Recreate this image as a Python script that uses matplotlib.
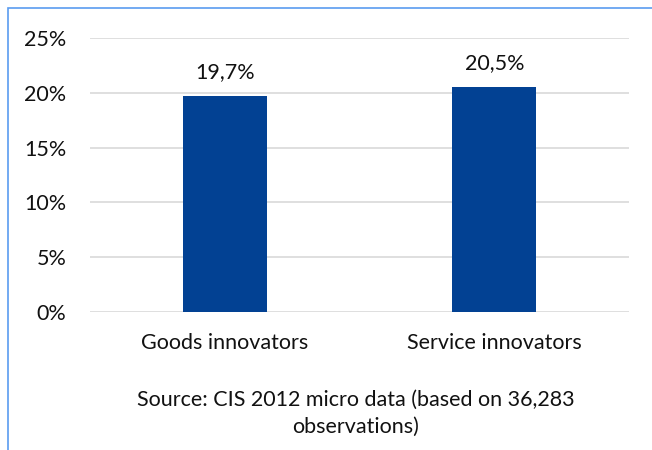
import matplotlib.pyplot as plt
from matplotlib.patches import Rectangle

categories = ['Goods innovators', 'Service innovators']
shares = [19.7, 20.5]
value_labels = ['19,7%', '20,5%']
y_ticks = [0, 5, 10, 15, 20, 25]
source = 'Source: CIS 2012 micro data (based on 36,283\nobservations)'

plt.rcParams['font.family'] = ['Lato', 'DejaVu Sans']
txt = '#111111'
fs = 15.5

fig = plt.figure(figsize=(6.52, 4.5), dpi=100)
W, H = 652, 450
ax = fig.add_axes([90 / W, 1 - 312 / H, 539 / W, (312 - 38) / H])

x = range(len(categories))
ax.bar(x, shares, width=0.312, color='#024193', zorder=3)
for xi, v, lab in zip(x, shares, value_labels):
    ax.annotate(lab, (xi, v), xytext=(0, 10), textcoords='offset points',
                ha='center', va='bottom', fontsize=fs, color=txt)

ax.set_xlim(-0.5, 1.5)
ax.set_ylim(0, 25)
ax.set_yticks(y_ticks)
ax.set_yticklabels([f'{t}%' for t in y_ticks])
ax.set_xticks(list(x))
ax.set_xticklabels(categories)
ax.tick_params(axis='both', length=0, labelsize=fs, labelcolor=txt)
ax.tick_params(axis='y', pad=17)
ax.tick_params(axis='x', pad=15)
ax.grid(axis='y', color='#d9d9d9', linewidth=1.2, zorder=0)
for s in ax.spines.values():
    s.set_visible(False)

fig.text(356 / W, 1 - 413 / H, source, ha='center', va='center',
         fontsize=fs, color=txt, linespacing=1.45)

# frame around the chart (only left and top edges fall inside the image)
fig.add_artist(Rectangle((8 / W, -0.1), 1.0, 1 - 8 / H + 0.1,
                         transform=fig.transFigure, fill=False,
                         edgecolor='#5a9cf0', linewidth=1.2))

fig.savefig('out.png', dpi=100, facecolor='white')
